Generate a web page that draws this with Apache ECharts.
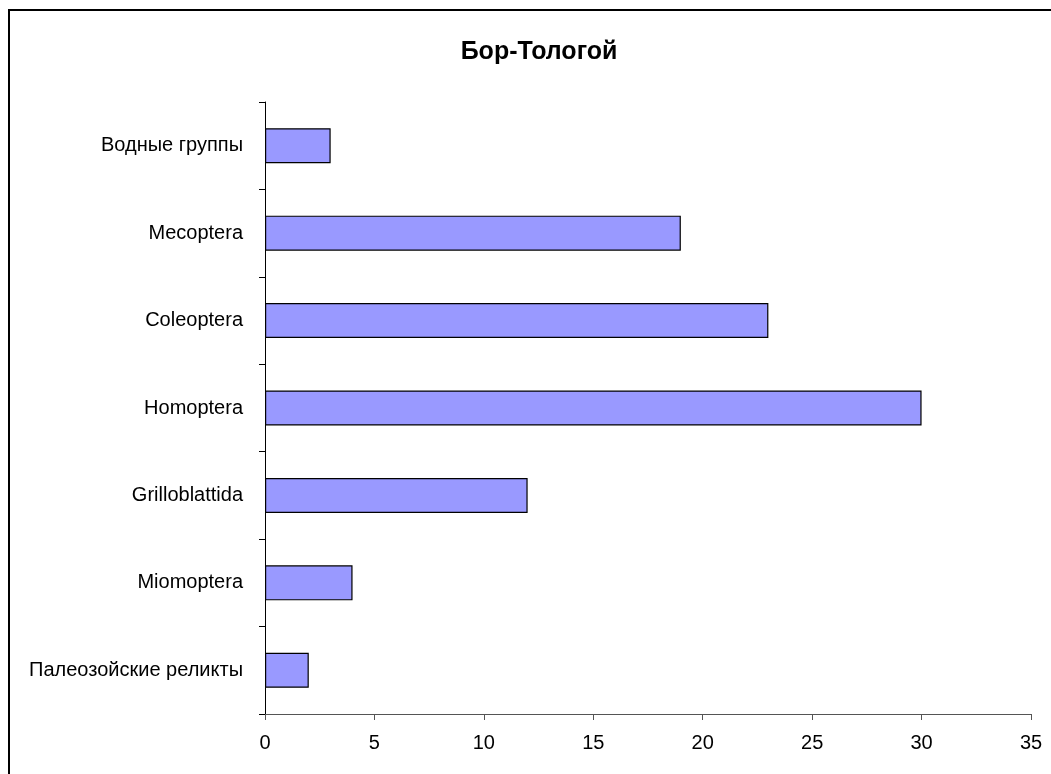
<!DOCTYPE html>
<html><head><meta charset="utf-8">
<script src="https://cdn.jsdelivr.net/npm/echarts@6/dist/echarts.min.js"></script>
<style>html,body{margin:0;padding:0;background:#fff}#c{width:1051px;height:774px}</style>
</head><body><div id="c"></div>
<script>
const categories = ['Палеозойские реликты','Miomoptera','Grilloblattida','Homoptera','Coleoptera','Mecoptera','Водные группы'];
const values = [2, 4, 12, 30, 23, 19, 3];
const xTicks = {min: 0, max: 35, interval: 5};
const chart = echarts.init(document.getElementById('c'), null, {renderer: 'canvas'});
const font = '"Liberation Sans", Arial, sans-serif';
chart.setOption({
  animation: false,
  backgroundColor: '#fff',
  graphic: [{type: 'rect', shape: {x: 9, y: 10, width: 1100, height: 800}, style: {fill: 'none', stroke: '#000', lineWidth: 2}, silent: true}],
  title: {text: 'Бор-Тологой', left: 534, textAlign: 'center', top: 35, textStyle: {fontFamily: font, fontSize: 25, fontWeight: 'bold', color: '#000'}},
  grid: {left: 265, right: 20, top: 102, bottom: 60, containLabel: false},
  xAxis: {type: 'value', min: xTicks.min, max: xTicks.max, interval: xTicks.interval,
    splitLine: {show: false},
    axisLine: {show: true, lineStyle: {color: '#555', width: 1}},
    axisTick: {show: true, length: 6, inside: false, lineStyle: {color: '#555'}},
    axisLabel: {margin: 19, fontFamily: font, fontSize: 20, color: '#000'}},
  yAxis: {type: 'category', data: categories,
    axisLine: {show: true, onZero: false, lineStyle: {color: '#000', width: 1}},
    axisTick: {show: true, length: 6, lineStyle: {color: '#000'}},
    axisLabel: {margin: 22, fontFamily: font, fontSize: 20, color: '#000'}},
  series: [{type: 'bar', data: values, barWidth: '40%',
    itemStyle: {color: '#9999ff', borderColor: '#000', borderWidth: 1.2}}]
});
</script></body></html>
